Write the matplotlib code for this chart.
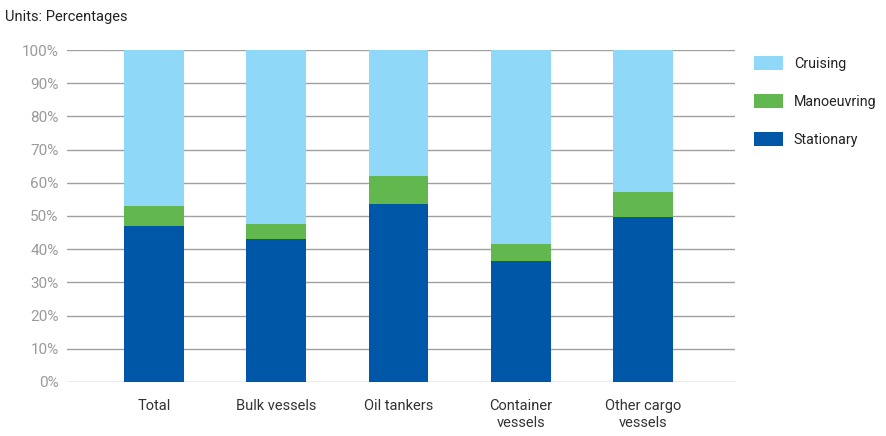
import matplotlib.pyplot as plt
import numpy as np

categories = ['Total', 'Bulk vessels', 'Oil tankers', 'Container\nvessels', 'Other cargo\nvessels']
stationary = [47.0, 43.2, 53.7, 36.4, 49.8]
manoeuvring = [6.1, 4.3, 8.4, 5.2, 7.5]
cruising = [100 - s - m for s, m in zip(stationary, manoeuvring)]
y_ticks = list(range(0, 101, 10))

plt.rcParams['font.family'] = ['Roboto', 'DejaVu Sans']

fig = plt.figure(figsize=(8.87, 4.36), dpi=100)
ax = fig.add_axes([0.0755, 0.1239, 0.7532, 0.7614])

x = np.arange(len(categories))
w = 0.49
ax.bar(x, stationary, w, color='#0057a8', label='Stationary', zorder=3)
ax.bar(x, manoeuvring, w, bottom=stationary, color='#62b84e', label='Manoeuvring', zorder=3)
bottom2 = [s + m for s, m in zip(stationary, manoeuvring)]
ax.bar(x, cruising, w, bottom=bottom2, color='#8fd8f8', label='Cruising', zorder=3)

ax.set_xlim(-0.713, 4.754)
ax.set_ylim(0, 100)
ax.set_yticks(y_ticks)
ax.set_yticklabels([f'{v}%' for v in y_ticks], color='#9a9a9a', fontsize=11)
ax.set_xticks(x)
ax.set_xticklabels(categories, color='#333333', fontsize=10.5, linespacing=1.35)
ax.tick_params(axis='both', length=0)
ax.tick_params(axis='y', pad=6)
ax.tick_params(axis='x', pad=12)
ax.yaxis.grid(True, color='#a0a0a0', linewidth=1, zorder=0)
for s in ax.spines.values():
    s.set_visible(False)

handles, labels = ax.get_legend_handles_labels()
leg = fig.legend(handles[::-1], labels[::-1], loc='upper left', bbox_to_anchor=(0.836, 0.902),
                 frameon=False, fontsize=10.3, handlelength=2.0, handleheight=1.2,
                 labelspacing=1.6, handletextpad=0.75)
for t in leg.get_texts():
    t.set_color('#222222')

fig.text(0.006, 0.962, 'Units: Percentages', fontsize=10.5, color='#222222', va='center', ha='left')

fig.savefig('out.png', dpi=100)
